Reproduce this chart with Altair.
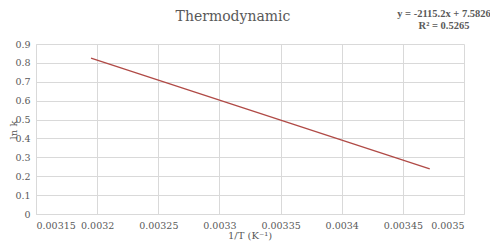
import altair as alt
import pandas as pd

# Data
inv_T = [0.003195, 0.003472]
ln_k = [0.8246, 0.2388]
title_text = "Thermodynamic"
eq_line1 = "y = -2115.2x + 7.5826"
eq_line2 = "R² = 0.5265"
x_title = "1/T (K⁻¹)"
y_title = "ln k"
x_ticks = [0.00315, 0.0032, 0.00325, 0.0033, 0.00335, 0.0034, 0.00345, 0.0035]
y_ticks = [0, 0.1, 0.2, 0.3, 0.4, 0.5, 0.6, 0.7, 0.8, 0.9]

df = pd.DataFrame({"x": inv_T, "y": ln_k})
one = pd.DataFrame({"a": [0]})

FONT = "DejaVu Serif"
EQFONT = "Liberation Serif"
GRID = "#D9D9D9"
TXT = "#595959"

line = alt.Chart(df).mark_line(color="#B04A46", strokeWidth=1.3).encode(
    x=alt.X("x:Q", scale=alt.Scale(domain=[0.00315, 0.0035], nice=False, zero=False),
            axis=alt.Axis(values=x_ticks, format="~g", title=None,
                          grid=True, gridColor=GRID, domainColor=GRID, ticks=False,
                          labelFont=FONT, labelFontSize=9.5, labelColor=TXT, labelPadding=6)),
    y=alt.Y("y:Q", scale=alt.Scale(domain=[0, 0.9], nice=False),
            axis=alt.Axis(values=y_ticks, format="~g", title=None,
                          grid=True, gridColor=GRID, domainColor=GRID, ticks=False,
                          labelFont=FONT, labelFontSize=9.5, labelColor=TXT, labelPadding=6)),
)


def txt(s, x, y, size=10, weight="normal", angle=0, baseline="middle", font=FONT):
    return alt.Chart(one).mark_text(
        text=s, font=font, fontSize=size, fontWeight=weight, color=TXT,
        align="center", baseline=baseline, angle=angle,
    ).encode(x=alt.value(x), y=alt.value(y))


layers = [
    line,
    txt(title_text, 197, -23, size=14, baseline="alphabetic"),
    txt(eq_line1, 408, -27, size=10.5, weight="bold", baseline="alphabetic", font=EQFONT),
    txt(eq_line2, 408, -15, size=10.5, weight="bold", baseline="alphabetic", font=EQFONT),
    txt(x_title, 214, 192, size=10),
    txt(y_title, -22, 86, size=10, angle=270),
]

chart = alt.layer(*layers).properties(
    width=428, height=170,
    autosize=alt.AutoSizeParams(type="none"),
    padding={"left": 28, "top": 36, "right": 26, "bottom": 28},
).configure_view(stroke=None)

chart.save("out.html", embed_options={"renderer": "svg", "actions": False})
